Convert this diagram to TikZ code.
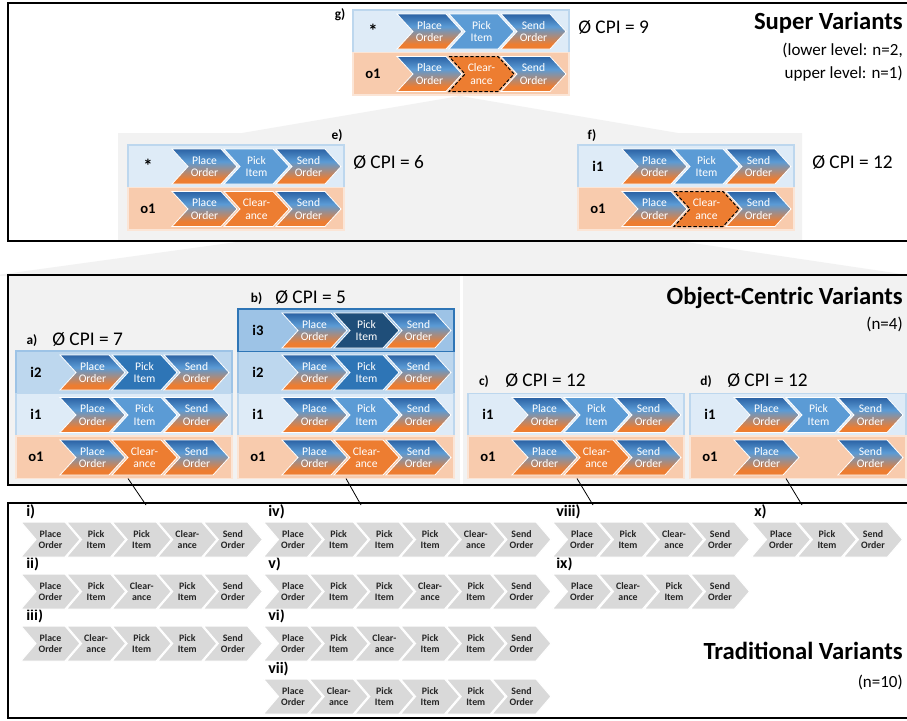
\documentclass[tikz,border=0pt]{standalone}
\usepackage{fontspec}
\setmainfont{Carlito}
\definecolor{lb}{HTML}{DEEBF7}
\definecolor{lbb}{HTML}{BDD7EE}
\definecolor{mb}{HTML}{BDD7EE}
\definecolor{mbb}{HTML}{9DC3E6}
\definecolor{db}{HTML}{9DC3E6}
\definecolor{dbb}{HTML}{2E75B6}
\definecolor{pe}{HTML}{F8CBAD}
\definecolor{peb}{HTML}{FBE5D6}
\definecolor{pick1}{HTML}{5B9BD5}
\definecolor{pick2}{HTML}{2E75B6}
\definecolor{pick3}{HTML}{1F4E79}
\definecolor{clr}{HTML}{ED7D31}
\definecolor{gtop}{HTML}{2B62A4}
\definecolor{gmid}{HTML}{5B9BD5}
\definecolor{gbot}{HTML}{ED7D31}
\definecolor{trad}{HTML}{D9D9D9}
\definecolor{panel}{HTML}{F2F2F2}
\pgfdeclareverticalshading{chevgrad}{100bp}{color(0bp)=(gbot); color(32bp)=(gbot); color(57bp)=(gmid); color(75bp)=(gtop); color(100bp)=(gtop)}
\def\tPO{Place\\Order}
\def\tPI{Pick\\Item}
\def\tCL{Clear-\\ance}
\def\tSO{Send\\Order}
\newcommand\chev[5]{%
  \path[#3] ({#1},{#2}) -- ++(49,0) -- ++(16,17.5) -- ++(-16,17.5) -- ++(-49,0) -- ++(16,-17.5) -- cycle;
  \node[ctext] (#5) at ({#1+32.5},{#2+17.5}) {#4};
}
\newcommand\tchev[4]{%
  \path[tradfill] ({#1},{#2}) -- ++(44,0) -- ++(15,17.5) -- ++(-15,17.5) -- ++(-44,0) -- ++(15,-17.5) -- cycle;
  \node[ttext] (#4) at ({#1+29.5},{#2+17.5}) {#3};
}
\newcommand\tseq[5]{%
  \foreach \tx [count=\k from 0] in {#5} {\tchev{#1+\k*#3}{#2}{\tx}{#4\k}}
}
\newcommand\vrow[5]{%
  \node[rowbox,#4,anchor=north west] (#1) at ({#2},{#3}) {};
  \node[rowlab] (#1l) at ({#2+20},{#3+21.25}) {#5};
  \chev{#2+44}{#3+4}{gradfill}{\tPO}{#1a}
  \chev{#2+148}{#3+4}{gradfill}{\tSO}{#1c}
}
\begin{document}
\begin{tikzpicture}[x=0.75pt,y=-0.75pt,
  rowbox/.style={minimum width=162pt, minimum height=31.875pt, inner sep=0pt, outer sep=0pt, line width=1pt},
  rowA/.style={fill=lb, draw=lbb},
  rowB/.style={fill=mb, draw=mbb},
  rowC/.style={fill=db, draw=dbb},
  rowO/.style={fill=pe, draw=peb},
  gradfill/.style={shade, shading=chevgrad, draw=white, line width=0.6pt},
  pickA/.style={fill=pick1, draw=white, line width=0.6pt},
  pickB/.style={fill=pick2, draw=white, line width=0.6pt},
  pickC/.style={fill=pick3, draw=white, line width=0.6pt},
  clrfill/.style={fill=clr, draw=white, line width=0.6pt},
  clrdash/.style={fill=clr, draw=black, dash pattern=on 2.5pt off 1.5pt, line width=0.75pt},
  tradfill/.style={fill=trad, draw=white, line width=0.75pt},
  ctext/.style={text=white, font=\fontsize{8.7}{9.6}\selectfont, align=center, inner sep=0pt},
  ttext/.style={text=black!85, font=\bfseries\fontsize{7.4}{8.2}\selectfont, align=center, inner sep=0pt},
  rowlab/.style={font=\bfseries\fontsize{11}{13}\selectfont, inner sep=0pt},
  lbl/.style={font=\bfseries\fontsize{10}{12}\selectfont, inner sep=0pt},
  cpi/.style={font=\fontsize{14.5}{17}\selectfont, inner sep=0pt},
  ttl/.style={font=\bfseries\fontsize{18.5}{22}\selectfont, inner sep=0pt},
  subt/.style={font=\fontsize{12.75}{15}\selectfont, inner sep=0pt},
  tlab/.style={font=\bfseries\fontsize{12}{14}\selectfont, inner sep=0pt},
  pline/.style={draw=black, line width=2pt},
  conn/.style={draw=black, line width=0.6pt}]
\useasboundingbox (0,0) rectangle (907,721);
\clip (0,0) rectangle (907,721);
% backgrounds
\fill[white] (0,0) rectangle (907,721);
\fill[panel] (460,96) -- (678,133) -- (802,133) -- (802,241) -- (118,241) -- (118,133) -- (242,133) -- cycle;
\fill[panel] (244,241) -- (679,241) -- (915,276) -- (-10,276) -- cycle;
\fill[panel] (8,275) rectangle (915,485);
\fill[white] (459.5,276) rectangle (463,485);

% ---------- Super variants ----------
\node[lbl, anchor=base] (glab) at (340,18) {g)};
\vrow{g1}{353}{10}{rowA}{\fontsize{14}{14}\selectfont *}
\chev{449}{14}{pickA}{\tPI}{g1b}
\vrow{g2}{353}{52.5}{rowO}{o1}
\chev{449}{56.5}{clrdash}{\tCL}{g2b}
\node[cpi, anchor=base west] (gcpi) at (578,33) {Ø CPI = 9};

\node[lbl, anchor=base] (elab) at (337,139) {e)};
\vrow{e1}{128}{145}{rowA}{\fontsize{14}{14}\selectfont *}
\chev{224}{149}{pickA}{\tPI}{e1b}
\vrow{e2}{128}{187.5}{rowO}{o1}
\chev{224}{191.5}{clrfill}{\tCL}{e2b}
\node[cpi, anchor=base west] (ecpi) at (353,168) {Ø CPI = 6};

\node[lbl, anchor=base] (flab) at (592,139) {f)};
\vrow{f1}{578}{145}{rowA}{i1}
\chev{674}{149}{pickA}{\tPI}{f1b}
\vrow{f2}{578}{187.5}{rowO}{o1}
\chev{674}{191.5}{clrdash}{\tCL}{f2b}
\node[cpi, anchor=base west] (fcpi) at (812,168) {Ø CPI = 12};

\node[ttl, anchor=base east] (svt) at (903,29) {Super Variants};
\node[subt, anchor=base east] (sv1) at (903,55) {(lower level: n=2,};
\node[subt, anchor=base east] (sv2) at (903,78) {upper level: n=1)};

% ---------- Object-centric variants ----------
\node[lbl, anchor=base] (alab) at (32,344) {a)};
\node[cpi, anchor=base west] (acpi) at (52,345) {Ø CPI = 7};
\vrow{a2}{16}{351}{rowB}{i2}
\chev{112}{355}{pickB}{\tPI}{a2b}
\vrow{a1}{16}{393.5}{rowA}{i1}
\chev{112}{397.5}{pickA}{\tPI}{a1b}
\vrow{ao}{16}{436}{rowO}{o1}
\chev{112}{440}{clrfill}{\tCL}{aob}

\node[lbl, anchor=base] (blab) at (256.5,302) {b)};
\node[cpi, anchor=base west] (bcpi) at (275,303) {Ø CPI = 5};
\vrow{b2}{238}{351}{rowB}{i2}
\chev{334}{355}{pickB}{\tPI}{b2b}
\vrow{b1}{238}{393.5}{rowA}{i1}
\chev{334}{397.5}{pickA}{\tPI}{b1b}
\vrow{bo}{238}{436}{rowO}{o1}
\chev{334}{440}{clrfill}{\tCL}{bob}
\vrow{b3}{238}{309}{rowC}{i3}
\chev{334}{313}{pickC}{\tPI}{b3b}

\node[lbl, anchor=base] (clab) at (484,385) {c)};
\node[cpi, anchor=base west] (ccpi) at (505,386) {Ø CPI = 12};
\vrow{c1}{468}{393.5}{rowA}{i1}
\chev{564}{397.5}{pickA}{\tPI}{c1b}
\vrow{co}{468}{436}{rowO}{o1}
\chev{564}{440}{clrfill}{\tCL}{cob}

\node[lbl, anchor=base] (dlab) at (706,385) {d)};
\node[cpi, anchor=base west] (dcpi) at (727,386) {Ø CPI = 12};
\vrow{d1}{690}{393.5}{rowA}{i1}
\chev{786}{397.5}{pickA}{\tPI}{d1b}
\vrow{do}{690}{436}{rowO}{o1}

\node[ttl, anchor=base east] (oct) at (903,304) {Object-Centric Variants};
\node[subt, anchor=base east] (oc1) at (903,329) {(n=4)};

% ---------- Traditional variants ----------
\node[tlab, anchor=base west] (li) at (26,516) {i)};
\node[tlab, anchor=base west] (lii) at (26,568) {ii)};
\node[tlab, anchor=base west] (liii) at (26,620) {iii)};
\node[tlab, anchor=base west] (liv) at (268,516) {iv)};
\node[tlab, anchor=base west] (lv) at (268,568) {v)};
\node[tlab, anchor=base west] (lvi) at (268,620) {vi)};
\node[tlab, anchor=base west] (lvii) at (268,673) {vii)};
\node[tlab, anchor=base west] (lviii) at (556,516) {viii)};
\node[tlab, anchor=base west] (lix) at (556,568) {ix)};
\node[tlab, anchor=base west] (lx) at (754,516) {x)};
\tseq{21}{522}{45.6}{ti}{\tPO,\tPI,\tPI,\tCL,\tSO}
\tseq{21}{574}{45.6}{tii}{\tPO,\tPI,\tCL,\tPI,\tSO}
\tseq{21}{626}{45.6}{tiii}{\tPO,\tCL,\tPI,\tPI,\tSO}
\tseq{263.5}{522}{45.7}{tiv}{\tPO,\tPI,\tPI,\tPI,\tCL,\tSO}
\tseq{263.5}{574}{45.7}{tv}{\tPO,\tPI,\tPI,\tCL,\tPI,\tSO}
\tseq{263.5}{626}{45.7}{tvi}{\tPO,\tPI,\tCL,\tPI,\tPI,\tSO}
\tseq{263.5}{679}{45.7}{tvii}{\tPO,\tCL,\tPI,\tPI,\tPI,\tSO}
\tseq{552.5}{522}{46}{tviii}{\tPO,\tPI,\tCL,\tSO}
\tseq{552.5}{574}{46}{tix}{\tPO,\tCL,\tPI,\tSO}
\tseq{751.5}{522}{46}{tx}{\tPO,\tPI,\tSO}

\node[ttl, anchor=base east] (tvt) at (903,659) {Traditional Variants};
\node[subt, anchor=base east] (tv1) at (903,687) {(n=10)};

% ---------- panel borders ----------
\draw[pline] (8,3) rectangle (915,241);
\draw[pline] (8,275) rectangle (915,485);
\draw[pline] (8,503) rectangle (915,718);

% ---------- connectors ----------
\coordinate (ta) at (146,505);
\coordinate (tb) at (361,505);
\coordinate (tc) at (593,505);
\coordinate (td) at (802,505);
\draw[conn] ([xshift=3pt]ao.south) -- (ta);
\draw[conn] (bo.south) -- (tb);
\draw[conn] ([xshift=0.75pt]co.south) -- (tc);
\draw[conn] ([xshift=-9pt]do.south) -- (td);
\end{tikzpicture}
\end{document}
